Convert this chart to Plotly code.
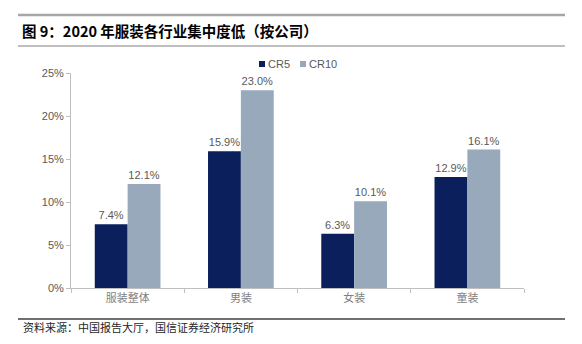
import plotly.graph_objects as go

categories = ["服装整体", "男装", "女装", "童装"]
cr5 = [7.4, 15.9, 6.3, 12.9]
cr10 = [12.1, 23.0, 10.1, 16.1]
y_ticks = [0, 5, 10, 15, 20, 25]
series_names = ["CR5", "CR10"]

NAVY = "#0a1f5c"
GREYBLUE = "#97a9ba"
CJK = "Noto Sans CJK SC"

# plot-area geometry in pixels, used to place paper-referenced decorations
W, H = 582, 344
L, R, T, B = 71, 58, 73, 56
PW, PH = W - L - R, H - T - B


def px_x(x):
    return (x - L) / PW


def px_y(y):
    return (H - B - y) / PH


fig = go.Figure()
for name, vals, col in zip(series_names, [cr5, cr10], [NAVY, GREYBLUE]):
    fig.add_trace(go.Bar(
        x=categories, y=vals, name=name, marker_color=col,
        marker_line_width=0,
        text=[f"{v:.1f}%" for v in vals], textposition="outside",
        textfont=dict(size=11, color="#595959", family="Liberation Sans"),
        cliponaxis=False, showlegend=False,
    ))

fig.update_layout(
    width=W, height=H,
    margin=dict(l=L, r=R, t=T, b=B),
    paper_bgcolor="white", plot_bgcolor="white",
    barmode="group", bargap=0.42, bargroupgap=0,
    font=dict(family="Liberation Sans", color="#595959", size=11),
    xaxis=dict(
        showline=True, linecolor="#bfbfbf", linewidth=1,
        ticks="outside", tickson="boundaries", ticklen=4, tickcolor="#bfbfbf",
        tickfont=dict(family=CJK, size=11, color="#7f7f7f"),
    ),
    yaxis=dict(
        range=[0, 25], tickvals=y_ticks, ticktext=[f"{t}%" for t in y_ticks],
        showgrid=False, zeroline=False,
        showline=True, linecolor="#bfbfbf", linewidth=1,
        ticks="outside", ticklen=4, tickcolor="#bfbfbf",
        tickfont=dict(size=11, color="#595959"),
    ),
)

# compact legend: small square swatch followed directly by the series name
for name, col, x0 in zip(series_names, [NAVY, GREYBLUE], [259, 300]):
    fig.add_shape(type="rect", xref="paper", yref="paper",
                  x0=px_x(x0), x1=px_x(x0 + 6), y0=px_y(67), y1=px_y(61),
                  fillcolor=col, line_width=0)
    fig.add_annotation(text=name, xref="paper", yref="paper",
                       x=px_x(x0 + 7), y=px_y(64), xanchor="left", yanchor="middle",
                       showarrow=False, font=dict(size=11, color="#595959"))

# header and footer rules
fig.add_shape(type="line", xref="paper", yref="paper",
              x0=px_x(18), x1=px_x(565), y0=px_y(15), y1=px_y(15),
              line=dict(color="#a6a6a6", width=2.5))
fig.add_shape(type="line", xref="paper", yref="paper",
              x0=px_x(18), x1=px_x(565), y0=px_y(46), y1=px_y(46),
              line=dict(color="#7f7f7f", width=1))
fig.add_shape(type="line", xref="paper", yref="paper",
              x0=px_x(18), x1=px_x(565), y0=px_y(319), y1=px_y(319),
              line=dict(color="#404040", width=1.5))

fig.add_annotation(text="<b>图 9：2020 年服装各行业集中度低（按公司）</b>",
                   xref="paper", yref="paper", x=px_x(20), y=px_y(30),
                   xanchor="left", yanchor="middle", showarrow=False,
                   font=dict(family=CJK, size=14.5, color="#000000"))
fig.add_annotation(text="资料来源：中国报告大厅，国信证券经济研究所",
                   xref="paper", yref="paper", x=px_x(21), y=px_y(327),
                   xanchor="left", yanchor="middle", showarrow=False,
                   font=dict(family=CJK, size=11, color="#262626"))

fig.write_html("out.html")
